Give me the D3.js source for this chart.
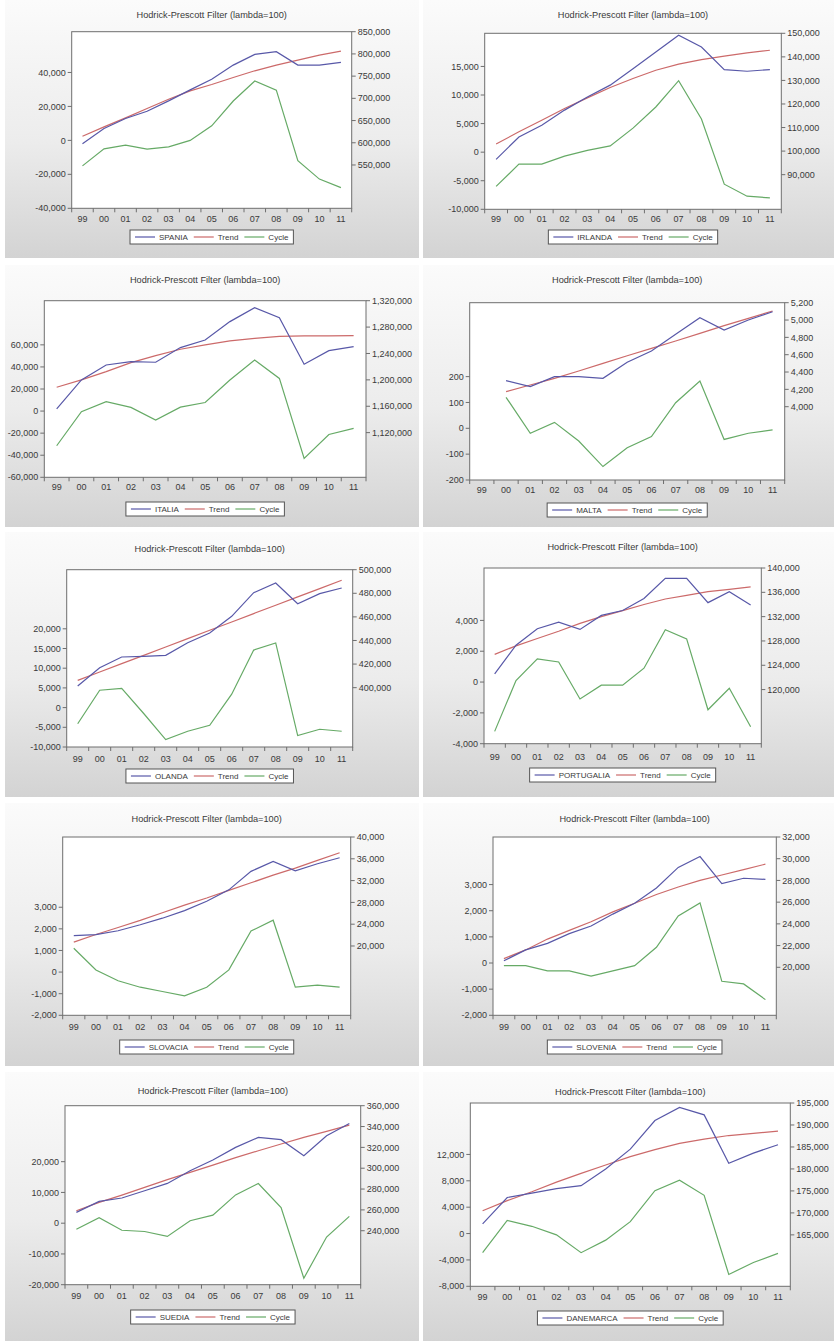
<!DOCTYPE html>
<html>
<head>
<meta charset="utf-8">
<script src="https://cdn.jsdelivr.net/npm/d3@7"></script>
<style>
  html, body { margin: 0; padding: 0; background: #ffffff; }
  svg { display: block; }
  text { font-family: Arial, "Liberation Sans", sans-serif; fill: #3a3a3a; }
</style>
</head>
<body>
<svg id="chart" width="834" height="1341"></svg>
<script>
// Observation labels (1999 - 2011)
const years = ["99","00","01","02","03","04","05","06","07","08","09","10","11"];

// SPANIA
const spaniaActual = [598000, 632000, 654500, 671000, 694300, 719000, 743000, 774800, 798900, 805000, 774800, 774800, 780800];
const spaniaTrend  = [614700, 635700, 656000, 677100, 698100, 716900, 731200, 747000, 762000, 774800, 786100, 797400, 806400];
const spaniaCycle  = [-15000, -5000, -2800, -5200, -3800, 0, 8600, 23200, 35000, 29600, -12000, -22800, -27800];
const spaniaLeftTicks  = [-40000, -20000, 0, 20000, 40000];
const spaniaRightTicks = [550000, 600000, 650000, 700000, 750000, 800000, 850000];

// IRLANDA
const irlandaActual = [96500, 106000, 111000, 117400, 123000, 128000, 135000, 142100, 149200, 144200, 134600, 133900, 134600];
const irlandaTrend  = [103000, 108200, 113100, 118100, 122600, 127000, 130800, 134300, 136900, 138800, 140300, 141700, 142800];
const irlandaCycle  = [-6000, -2100, -2100, -700, 300, 1100, 4200, 7900, 12500, 5800, -5600, -7700, -8000];
const irlandaLeftTicks  = [-10000, -5000, 0, 5000, 10000, 15000];
const irlandaRightTicks = [90000, 100000, 110000, 120000, 130000, 140000, 150000];

// ITALIA
const italiaActual = [1156000, 1199900, 1222600, 1227700, 1226700, 1248900, 1260500, 1288300, 1309500, 1294300, 1223600, 1244300, 1250400];
const italiaTrend  = [1188800, 1199900, 1212500, 1226200, 1236800, 1246400, 1252900, 1259000, 1263000, 1266000, 1266600, 1266800, 1267000];
const italiaCycle  = [-31400, -600, 8500, 3300, -8200, 3600, 7800, 28100, 46200, 29600, -42900, -21200, -15700];
const italiaLeftTicks  = [-60000, -40000, -20000, 0, 20000, 40000, 60000];
const italiaRightTicks = [1120000, 1160000, 1200000, 1240000, 1280000, 1320000];

// MALTA (series start in 2000)
const maltaActual = [null, 4300, 4231, 4346, 4346, 4327, 4512, 4642, 4835, 5027, 4885, 5000, 5096];
const maltaTrend  = [null, 4173, 4250, 4327, 4412, 4500, 4588, 4673, 4758, 4846, 4935, 5019, 5104];
const maltaCycle  = [null, 120, -19, 23, -49, -148, -75, -32, 99, 183, -43, -19, -6];
const maltaLeftTicks  = [-200, -100, 0, 100, 200];
const maltaRightTicks = [4000, 4200, 4400, 4600, 4800, 5000, 5200];

// OLANDA
const olandaActual = [401400, 416900, 426000, 426600, 427400, 438100, 446300, 460500, 480500, 488700, 471200, 479700, 484500];
const olandaTrend  = [406200, 413300, 420400, 427400, 434500, 441600, 448700, 455700, 462800, 469900, 477000, 484000, 491100];
const olandaCycle  = [-4100, 4400, 4900, -1500, -8100, -6000, -4500, 3400, 14600, 16400, -7100, -5500, -6000];
const olandaLeftTicks  = [-10000, -5000, 0, 5000, 10000, 15000, 20000];
const olandaRightTicks = [400000, 420000, 440000, 460000, 480000, 500000];

// PORTUGALIA
const portugaliaActual = [122600, 127300, 130000, 131100, 129900, 132200, 133000, 135000, 138300, 138300, 134300, 136100, 133900];
const portugaliaTrend  = [125800, 127200, 128400, 129600, 130900, 132000, 133000, 134000, 134900, 135500, 136100, 136500, 136900];
const portugaliaCycle  = [-3200, 100, 1500, 1300, -1100, -200, -200, 900, 3400, 2800, -1800, -400, -2900];
const portugaliaLeftTicks  = [-4000, -2000, 0, 2000, 4000];
const portugaliaRightTicks = [120000, 124000, 128000, 132000, 136000, 140000];

// SLOVACIA
const slovaciaActual = [21900, 22100, 22800, 23900, 25100, 26500, 28200, 30300, 33700, 35500, 33800, 35100, 36200];
const slovaciaTrend  = [20700, 22100, 23400, 24700, 26100, 27500, 28800, 30200, 31600, 33000, 34300, 35700, 37100];
const slovaciaCycle  = [1100, 100, -400, -700, -900, -1100, -700, 100, 1900, 2400, -700, -600, -700];
const slovaciaLeftTicks  = [-2000, -1000, 0, 1000, 2000, 3000];
const slovaciaRightTicks = [20000, 24000, 28000, 32000, 36000, 40000];

// SLOVENIA
const sloveniaActual = [20600, 21600, 22200, 23100, 23800, 24900, 25900, 27300, 29200, 30200, 27700, 28200, 28100];
const sloveniaTrend  = [20800, 21600, 22600, 23400, 24200, 25100, 25900, 26700, 27400, 28000, 28500, 29000, 29500];
const sloveniaCycle  = [-100, -100, -300, -300, -500, -300, -100, 600, 1800, 2300, -700, -800, -1400];
const sloveniaLeftTicks  = [-2000, -1000, 0, 1000, 2000, 3000];
const sloveniaRightTicks = [20000, 22000, 24000, 26000, 28000, 30000, 32000];

// SUEDIA
const suediaActual = [257600, 268200, 271400, 278400, 285400, 297600, 307800, 320000, 329600, 327400, 312000, 331200, 343000];
const suediaTrend  = [259200, 267200, 274200, 281600, 289000, 296000, 303000, 310100, 316800, 323200, 329600, 335400, 341400];
const suediaCycle  = [-2000, 1800, -2300, -2700, -4300, 800, 2600, 9200, 12900, 5100, -17900, -4500, 2200];
const suediaLeftTicks  = [-20000, -10000, 0, 10000, 20000];
const suediaRightTicks = [240000, 260000, 280000, 300000, 320000, 340000, 360000];

// DANEMARCA
const danemarcaActual = [167500, 173500, 174500, 175500, 176200, 180000, 184500, 191000, 194000, 192300, 181300, 183600, 185500];
const danemarcaTrend  = [170500, 172800, 174800, 177000, 179000, 180900, 182800, 184400, 185800, 186800, 187600, 188100, 188600];
const danemarcaCycle  = [-2900, 2000, 1100, -200, -2900, -1000, 1800, 6500, 8100, 5800, -6200, -4400, -3000];
const danemarcaLeftTicks  = [-8000, -4000, 0, 4000, 8000, 12000];
const danemarcaRightTicks = [165000, 170000, 175000, 180000, 185000, 190000, 195000];

const titleText = "Hodrick-Prescott Filter (lambda=100)";
const colors = { actual: "#5858a8", trend: "#cc6a6a", cycle: "#66aa66" };

// Number format with plain hyphen minus and comma grouping
const fmt = d3.formatLocale({ decimal: ".", thousands: ",", grouping: [3], currency: ["", ""], minus: "-" }).format(",");

// Panel layout: background box, plot frame, text rows, and axis extents
const panels = [
  { name: "SPANIA", actual: spaniaActual, trend: spaniaTrend, cycle: spaniaCycle,
    leftTicks: spaniaLeftTicks, rightTicks: spaniaRightTicks,
    leftDomain: [-40000, 64000], rightDomain: [452500, 850000],
    box: [5, 0, 414, 258], plot: { l: 71.7, r: 351.7, t: 31.7, b: 208.3 },
    titleY: 15, labelY: 219, legendY: 230 },
  { name: "IRLANDA", actual: irlandaActual, trend: irlandaTrend, cycle: irlandaCycle,
    leftTicks: irlandaLeftTicks, rightTicks: irlandaRightTicks,
    leftDomain: [-10000, 20800], rightDomain: [75300, 150000],
    box: [423, 0, 411, 258], plot: { l: 484.7, r: 781.3, t: 33.3, b: 209.3 },
    titleY: 15, labelY: 219, legendY: 230 },
  { name: "ITALIA", actual: italiaActual, trend: italiaTrend, cycle: italiaCycle,
    leftTicks: italiaLeftTicks, rightTicks: italiaRightTicks,
    leftDomain: [-60000, 100000], rightDomain: [1052300, 1320000],
    box: [5, 265, 414, 262], plot: { l: 44.3, r: 366, t: 300.7, b: 477.3 },
    titleY: 280, labelY: 487, legendY: 502 },
  { name: "MALTA", actual: maltaActual, trend: maltaTrend, cycle: maltaCycle,
    leftTicks: maltaLeftTicks, rightTicks: maltaRightTicks,
    leftDomain: [-200, 486], rightDomain: [3154, 5200],
    box: [423, 265, 411, 262], plot: { l: 469.7, r: 784.7, t: 302.7, b: 480 },
    titleY: 280, labelY: 490, legendY: 503 },
  { name: "OLANDA", actual: olandaActual, trend: olandaTrend, cycle: olandaCycle,
    leftTicks: olandaLeftTicks, rightTicks: olandaRightTicks,
    leftDomain: [-10000, 35000], rightDomain: [349700, 500000],
    box: [5, 532, 414, 265], plot: { l: 66.7, r: 352.7, t: 569.7, b: 747 },
    titleY: 548.7, labelY: 758.7, legendY: 769 },
  { name: "PORTUGALIA", actual: portugaliaActual, trend: portugaliaTrend, cycle: portugaliaCycle,
    leftTicks: portugaliaLeftTicks, rightTicks: portugaliaRightTicks,
    leftDomain: [-4000, 7400], rightDomain: [111100, 140000],
    box: [423, 532, 411, 265], plot: { l: 484, r: 761.3, t: 568, b: 743.7 },
    titleY: 547, labelY: 757, legendY: 768 },
  { name: "SLOVACIA", actual: slovaciaActual, trend: slovaciaTrend, cycle: slovaciaCycle,
    leftTicks: slovaciaLeftTicks, rightTicks: slovaciaRightTicks,
    leftDomain: [-2000, 6250], rightDomain: [7280, 40000],
    box: [5, 803, 414, 263], plot: { l: 62.7, r: 350.7, t: 837, b: 1015.3 },
    titleY: 818.7, labelY: 1027.3, legendY: 1040 },
  { name: "SLOVENIA", actual: sloveniaActual, trend: sloveniaTrend, cycle: sloveniaCycle,
    leftTicks: sloveniaLeftTicks, rightTicks: sloveniaRightTicks,
    leftDomain: [-2000, 4820], rightDomain: [15580, 32000],
    box: [423, 803, 411, 263], plot: { l: 493, r: 776.3, t: 837, b: 1015.3 },
    titleY: 818.7, labelY: 1027.3, legendY: 1040 },
  { name: "SUEDIA", actual: suediaActual, trend: suediaTrend, cycle: suediaCycle,
    leftTicks: suediaLeftTicks, rightTicks: suediaRightTicks,
    leftDomain: [-20000, 38200], rightDomain: [188200, 360000],
    box: [5, 1072, 414, 269], plot: { l: 65, r: 360.7, t: 1105.7, b: 1284.7 },
    titleY: 1090.7, labelY: 1296.3, legendY: 1310 },
  { name: "DANEMARCA", actual: danemarcaActual, trend: danemarcaTrend, cycle: danemarcaCycle,
    leftTicks: danemarcaLeftTicks, rightTicks: danemarcaRightTicks,
    leftDomain: [-8000, 19800], rightDomain: [153300, 195000],
    box: [423, 1072, 411, 269], plot: { l: 470.3, r: 790.3, t: 1103, b: 1286.3 },
    titleY: 1092, labelY: 1297.3, legendY: 1311 }
];

const svg = d3.select("#chart");
const defs = svg.append("defs");
const grad = defs.append("linearGradient").attr("id", "panelFill")
  .attr("x1", 0).attr("y1", 0).attr("x2", 0).attr("y2", 1);
grad.append("stop").attr("offset", "0%").attr("stop-color", "#fbfbfb");
grad.append("stop").attr("offset", "55%").attr("stop-color", "#ececec");
grad.append("stop").attr("offset", "100%").attr("stop-color", "#d3d3d3");

const frameColor = "#6e6e6e";
const fontSize = 9;
const legendFont = 8;

function drawPanel(p) {
  const g = svg.append("g").attr("class", "panel");
  const [bx, by, bw, bh] = p.box;
  g.append("rect").attr("x", bx).attr("y", by).attr("width", bw).attr("height", bh)
    .attr("fill", "url(#panelFill)");

  const { l, r, t, b } = p.plot;
  const x = d3.scaleBand().domain(years).range([l, r]);
  const yL = d3.scaleLinear().domain(p.leftDomain).range([b, t]);
  const yR = d3.scaleLinear().domain(p.rightDomain).range([b, t]);

  // plot area
  g.append("rect").attr("x", l).attr("y", t).attr("width", r - l).attr("height", b - t)
    .attr("fill", "#ffffff").attr("stroke", frameColor).attr("stroke-width", 1);

  // title
  g.append("text").attr("x", (l + r) / 2).attr("y", p.titleY).attr("dy", "0.35em")
    .attr("text-anchor", "middle").attr("font-size", 9.2).text(titleText);

  // x axis: ticks at interval boundaries, labels at centres
  const bounds = years.map(d => x(d)).concat([r]);
  g.selectAll(".xt").data(bounds).join("line")
    .attr("x1", d => d).attr("x2", d => d).attr("y1", b).attr("y2", b + 4)
    .attr("stroke", frameColor);
  g.selectAll(".xl").data(years).join("text")
    .attr("x", d => x(d) + x.bandwidth() / 2).attr("y", p.labelY).attr("dy", "0.35em")
    .attr("text-anchor", "middle").attr("font-size", fontSize).text(d => d);

  // left axis (cycle)
  g.selectAll(".lt").data(p.leftTicks).join("line")
    .attr("x1", l - 4).attr("x2", l).attr("y1", d => yL(d)).attr("y2", d => yL(d))
    .attr("stroke", frameColor);
  g.selectAll(".ll").data(p.leftTicks).join("text")
    .attr("x", l - 6).attr("y", d => yL(d)).attr("dy", "0.35em")
    .attr("text-anchor", "end").attr("font-size", fontSize).text(d => fmt(d));

  // right axis (series and trend)
  g.selectAll(".rt").data(p.rightTicks).join("line")
    .attr("x1", r).attr("x2", r + 4).attr("y1", d => yR(d)).attr("y2", d => yR(d))
    .attr("stroke", frameColor);
  g.selectAll(".rl").data(p.rightTicks).join("text")
    .attr("x", r + 6).attr("y", d => yR(d)).attr("dy", "0.35em")
    .attr("text-anchor", "start").attr("font-size", fontSize).text(d => fmt(d));

  const cx = i => x(years[i]) + x.bandwidth() / 2;
  const lineR = d3.line().defined(d => d != null).x((d, i) => cx(i)).y(d => yR(d));
  const lineL = d3.line().defined(d => d != null).x((d, i) => cx(i)).y(d => yL(d));

  g.append("path").datum(p.cycle).attr("d", lineL)
    .attr("fill", "none").attr("stroke", colors.cycle).attr("stroke-width", 1.2);
  g.append("path").datum(p.trend).attr("d", lineR)
    .attr("fill", "none").attr("stroke", colors.trend).attr("stroke-width", 1.2);
  g.append("path").datum(p.actual).attr("d", lineR)
    .attr("fill", "none").attr("stroke", colors.actual).attr("stroke-width", 1.2);

  // legend
  const items = [
    { label: p.name, color: colors.actual },
    { label: "Trend", color: colors.trend },
    { label: "Cycle", color: colors.cycle }
  ];
  const lg = g.append("g");
  const sample = 20, gap = 4, pad = 5, between = 6;
  let cursor = pad;
  const placed = [];
  items.forEach(it => {
    const tx = lg.append("text").attr("font-size", legendFont).attr("dy", "0.35em").text(it.label);
    const w = tx.node().getComputedTextLength();
    placed.push({ it, tx, start: cursor, w });
    cursor += sample + gap + w + between;
  });
  const totalW = cursor - between + pad;
  const lx = (l + r) / 2 - totalW / 2;
  const lh = 14;
  lg.insert("rect", ":first-child").attr("x", lx).attr("y", p.legendY).attr("width", totalW).attr("height", lh)
    .attr("fill", "#ffffff").attr("stroke", "#555555").attr("stroke-width", 1);
  placed.forEach(pl => {
    const my = p.legendY + lh / 2;
    lg.append("line").attr("x1", lx + pl.start).attr("x2", lx + pl.start + sample)
      .attr("y1", my).attr("y2", my).attr("stroke", pl.it.color).attr("stroke-width", 1.2);
    pl.tx.attr("x", lx + pl.start + sample + gap).attr("y", my);
  });
}

panels.forEach(drawPanel);
</script>
</body>
</html>
